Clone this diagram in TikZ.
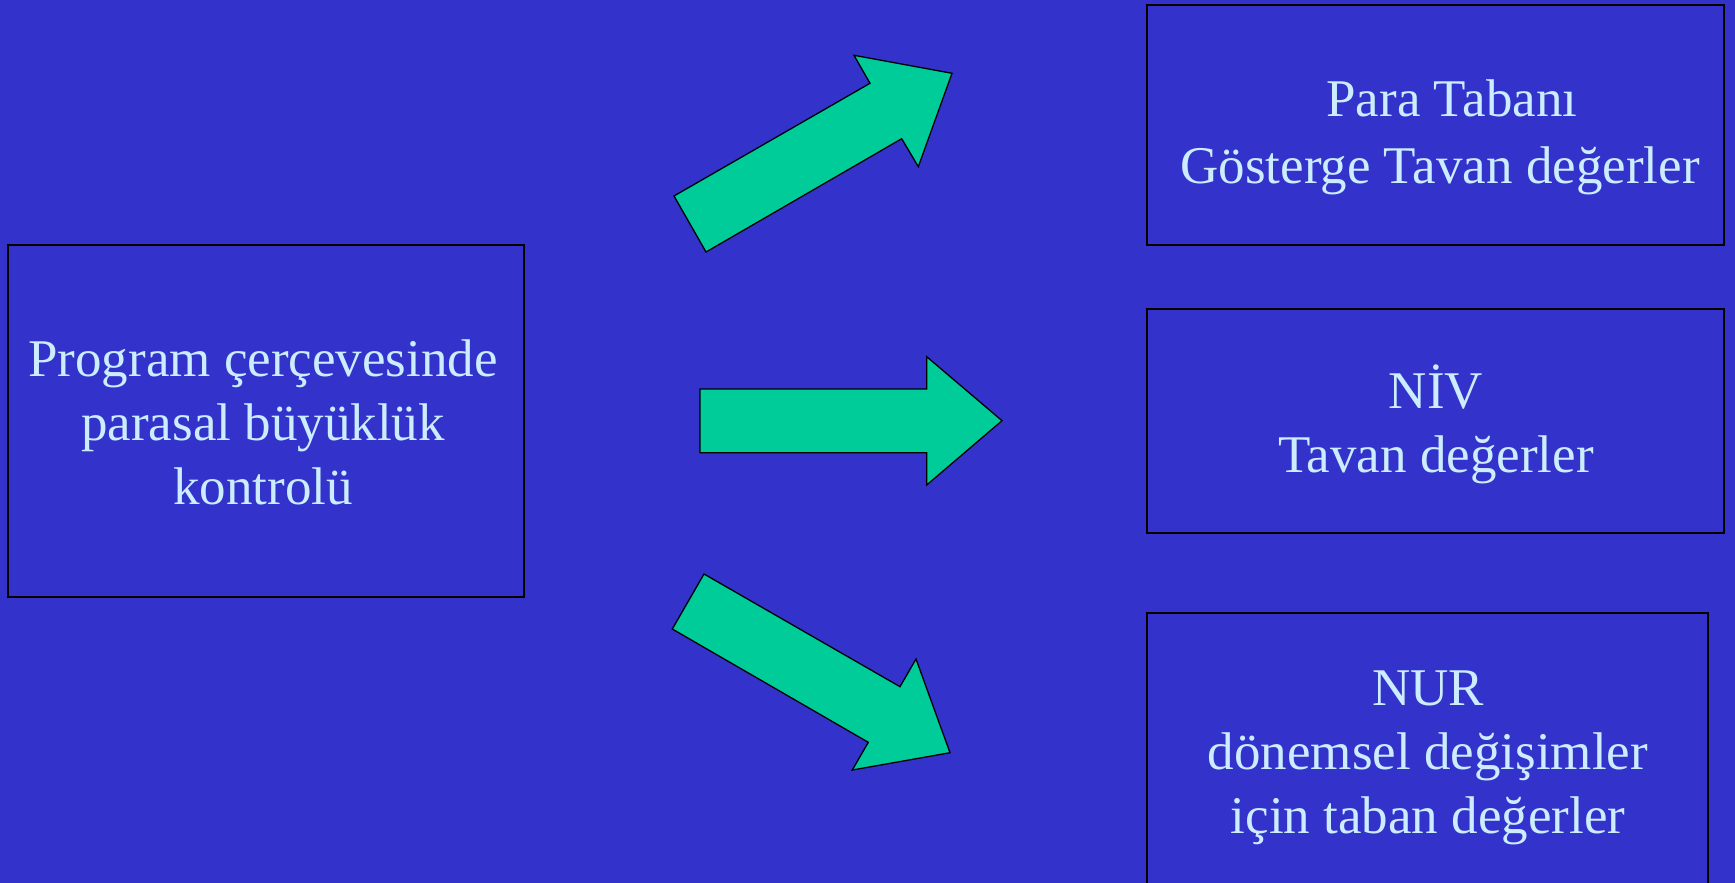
\documentclass[tikz,border=0pt]{standalone}
\usepackage{fontspec}
\setmainfont{Liberation Serif}
\definecolor{bgblue}{RGB}{51,51,204}
\definecolor{arrowgreen}{RGB}{0,204,153}
\definecolor{txtblue}{RGB}{204,236,255}
\tikzset{
  box/.style={draw=black, line width=1.5pt, fill=none, rectangle, inner sep=0pt, outer sep=0pt},
  lbl/.style={text=txtblue, align=center, inner sep=0pt, font=\fontsize{53}{64}\selectfont},
  blockarrow/.style={fill=arrowgreen, draw=black, line width=1.3pt, line join=miter}
}
\begin{document}
\begin{tikzpicture}[x=1pt, y=-1pt]
\useasboundingbox (0,0) rectangle (1735,883);
\clip (0,0) rectangle (1735,883);
\fill[bgblue] (0,0) rectangle (1735,883);

% boxes
\node[box, minimum width=516pt, minimum height=352pt, anchor=north west] (src) at (8,245) {};
\node[box, minimum width=577pt, minimum height=240pt, anchor=north west] (top) at (1147,5) {};
\node[box, minimum width=577pt, minimum height=224pt, anchor=north west] (mid) at (1147,309) {};
\node[box, minimum width=561pt, minimum height=300pt, anchor=north west] (bot) at (1147,613) {};

% texts (anchor base = baseline of the last line)
\node[lbl, anchor=base] (srctext) at (263,504) {Program çerçevesinde\\parasal büyüklük\\kontrolü};
\node[lbl, anchor=base, font=\fontsize{53}{66.5}\selectfont] (toptext) at (1440,183.3) {\hspace*{0.45em}Para Tabanı\\Gösterge Tavan değerler};
\node[lbl, anchor=base] (midtext) at (1436,472.7) {NİV\\Tavan değerler};
\node[lbl, anchor=base] (bottext) at (1428,833.3) {NUR\\dönemsel değişimler\\için taban değerler};

% block arrows
\draw[blockarrow] (674,196) -- (706,252) -- (901.7,138.7) -- (918.3,166.7) -- (952,73.3) -- (854,55.3) -- (870,83.3) -- cycle;
\draw[blockarrow] (700,389) -- (926.7,389) -- (926.7,356.7) -- (1002,420.7) -- (926.7,485) -- (926.7,452.7) -- (700,452.7) -- cycle;
\draw[blockarrow] (704,574) -- (900,686.7) -- (916,659) -- (950,752.7) -- (852.3,770) -- (868.3,742.3) -- (672.3,629) -- cycle;
\end{tikzpicture}
\end{document}
